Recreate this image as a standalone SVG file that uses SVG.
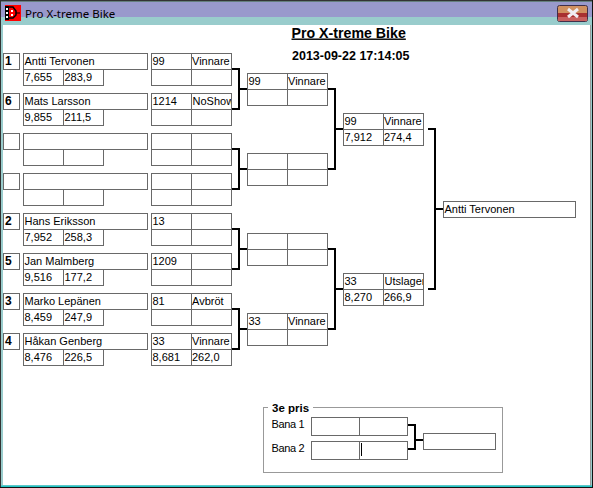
<svg xmlns="http://www.w3.org/2000/svg" width="593" height="488" viewBox="0 0 593 488">
<style>
.b{fill:#fff;stroke:#696969;stroke-width:1}
.d{stroke:#696969;stroke-width:1;fill:none}
.c{fill:none;stroke:#000;stroke-width:2}
text{font-family:"Liberation Sans",Arial,sans-serif;font-size:11px;fill:#000}
.s{font-weight:bold;font-size:12px}
.hd{font-weight:bold}
</style>
<defs>
<g id="pair"><rect class="b" x="0.5" y="0.5" width="80" height="32"/><path class="d" d="M40.5 0.5V32.5M0.5 16.5H80.5"/></g>
<g id="name"><rect class="b" x="0.5" y="0.5" width="124" height="16"/><rect class="b" x="0.5" y="16.5" width="80" height="16"/><path class="d" d="M40.5 16.5V32.5"/></g>
<rect id="seed" class="b" x="0.5" y="0.5" width="16" height="16"/>
<clipPath id="clip-noshow"><rect x="191" y="93" width="40" height="17"/></clipPath>
<clipPath id="clip-utslagen"><rect x="383" y="273" width="40" height="17"/></clipPath>
</defs>
<g id="window">
<rect width="593" height="488" fill="#99cccc"/>
<rect x="0" y="0" width="593" height="1.500" fill="#333"/>
<rect x="0" y="0" width="1" height="488" fill="#333"/>
<rect x="592" y="0" width="1" height="488" fill="#111"/>
<rect x="0" y="487" width="593" height="1" fill="#111"/>
<rect x="1" y="2" width="591" height="15" fill="#9999cc"/>
<rect x="3" y="25" width="587" height="460" fill="#fff"/>
<rect x="590" y="25" width="1" height="461" fill="#999"/>
<rect x="1" y="485.500" width="591" height="1.500" fill="#22c4c4"/>
<rect x="5" y="5" width="16" height="16" fill="#f00"/>
<path d="M5 6h4v14h-4z" fill="#000"/>
<path d="M6 8h2v2H6zM6 12h2v2H6zM6 16h2v2H6z" fill="#fff"/>
<path d="M9 7h4l3 4v4l-3 3H9" fill="none" stroke="#000" stroke-width="1.500"/>
<path d="M16 13h4" stroke="#000"/>
<path d="M11 10h2v2h-2zM11 14h2v2h-2z" fill="#fff"/>
<text x="25" y="18" style="font-family:'Noto Sans',sans-serif;font-size:11.5px">Pro X-treme Bike</text>
<rect x="557.500" y="5.500" width="30" height="16" rx="2" fill="#d09060" stroke="#40304a"/>
<rect x="558" y="13" width="29" height="4" fill="#a83030"/>
<rect x="558" y="17" width="29" height="4" fill="#c86060"/>
<path d="M568 9l10 8M578 9l-10 8" stroke="#f0eef4" stroke-width="3"/>
</g>
<g id="heading">
<text x="291.500" y="37.500" class="hd" style="font-size:14.200px" text-decoration="underline">Pro X-treme Bike</text>
<text x="292" y="60" class="hd" style="font-size:12.500px">2013-09-22 17:14:05</text>
</g>
<g id="connectors">
<path class="c" d="M232 69H239V109H232M240 89H247"/>
<path class="c" d="M232 149H239V189H232M240 169H247"/>
<path class="c" d="M232 229H239V269H232M240 249H247"/>
<path class="c" d="M232 309H239V349H232M240 329H247"/>
<path class="c" d="M328 89H335V169H328M336 129H343"/>
<path class="c" d="M328 249H335V329H328M336 289H343"/>
<path class="c" d="M428 129H435V289H428M436 209H443"/>
<path class="c" d="M408 425H415V449H408M416 440H423"/>
</g>
<g id="seed-1"><use href="#seed" x="3" y="53"/><text class="s" x="5" y="65">1</text></g>
<g id="seed-6"><use href="#seed" x="3" y="93"/><text class="s" x="5" y="105">6</text></g>
<g id="seed-e1"><use href="#seed" x="3" y="133"/></g>
<g id="seed-e2"><use href="#seed" x="3" y="173"/></g>
<g id="seed-2"><use href="#seed" x="3" y="213"/><text class="s" x="5" y="225">2</text></g>
<g id="seed-5"><use href="#seed" x="3" y="253"/><text class="s" x="5" y="265">5</text></g>
<g id="seed-3"><use href="#seed" x="3" y="293"/><text class="s" x="5" y="305">3</text></g>
<g id="seed-4"><use href="#seed" x="3" y="333"/><text class="s" x="5" y="345">4</text></g>
<g id="rider-1"><use href="#name" x="23" y="53"/><text x="24.500" y="65">Antti Tervonen</text><text x="24.500" y="81">7,655</text><text x="64.500" y="81">283,9</text></g>
<g id="rider-6"><use href="#name" x="23" y="93"/><text x="24.500" y="105">Mats Larsson</text><text x="24.500" y="121">9,855</text><text x="64.500" y="121">211,5</text></g>
<g id="rider-e1"><use href="#name" x="23" y="133"/></g>
<g id="rider-e2"><use href="#name" x="23" y="173"/></g>
<g id="rider-2"><use href="#name" x="23" y="213"/><text x="24.500" y="225">Hans Eriksson</text><text x="24.500" y="241">7,952</text><text x="64.500" y="241">258,3</text></g>
<g id="rider-5"><use href="#name" x="23" y="253"/><text x="24.500" y="265">Jan Malmberg</text><text x="24.500" y="281">9,516</text><text x="64.500" y="281">177,2</text></g>
<g id="rider-3"><use href="#name" x="23" y="293"/><text x="24.500" y="305">Marko Lepänen</text><text x="24.500" y="321">8,459</text><text x="64.500" y="321">247,9</text></g>
<g id="rider-4"><use href="#name" x="23" y="333"/><text x="24.500" y="345">Håkan Genberg</text><text x="24.500" y="361">8,476</text><text x="64.500" y="361">226,5</text></g>
<g id="r1-1"><use href="#pair" x="151" y="53"/><text x="152.500" y="65">99</text><text x="192" y="65">Vinnare</text></g>
<g id="r1-2"><use href="#pair" x="151" y="93"/><text x="152.500" y="105">1214</text><text x="192.500" y="105" clip-path="url(#clip-noshow)">NoShow</text></g>
<g id="r1-3"><use href="#pair" x="151" y="133"/></g>
<g id="r1-4"><use href="#pair" x="151" y="173"/></g>
<g id="r1-5"><use href="#pair" x="151" y="213"/><text x="152.500" y="225">13</text></g>
<g id="r1-6"><use href="#pair" x="151" y="253"/><text x="152.500" y="265">1209</text></g>
<g id="r1-7"><use href="#pair" x="151" y="293"/><text x="152.500" y="305">81</text><text x="192" y="305">Avbröt</text></g>
<g id="r1-8"><use href="#pair" x="151" y="333"/><text x="152.500" y="345">33</text><text x="192" y="345">Vinnare</text><text x="152.500" y="361">8,681</text><text x="192" y="361">262,0</text></g>
<g id="r2-1"><use href="#pair" x="247" y="73"/><text x="248.500" y="85">99</text><text x="288" y="85">Vinnare</text></g>
<g id="r2-2"><use href="#pair" x="247" y="153"/></g>
<g id="r2-3"><use href="#pair" x="247" y="233"/></g>
<g id="r2-4"><use href="#pair" x="247" y="313"/><text x="248.500" y="325">33</text><text x="288" y="325">Vinnare</text></g>
<g id="r3-1"><use href="#pair" x="343" y="113"/><text x="344.500" y="125">99</text><text x="384" y="125">Vinnare</text><text x="344.500" y="141">7,912</text><text x="384" y="141">274,4</text></g>
<g id="r3-2"><use href="#pair" x="343" y="273"/><text x="344.500" y="285">33</text><text x="384.500" y="285" clip-path="url(#clip-utslagen)">Utslagen</text><text x="344.500" y="301">8,270</text><text x="384" y="301">266,9</text></g>
<g id="final"><rect class="b" x="443.500" y="201.500" width="132" height="16"/><text x="444.500" y="213">Antti Tervonen</text></g>
<g id="third-place">
<rect x="263.500" y="407.500" width="239" height="65" fill="none" stroke="#999"/>
<rect x="268" y="403" width="45" height="10" fill="#fff"/>
<text x="272" y="412" class="hd" style="font-size:11.500px">3e pris</text>
<text x="271.500" y="428" textLength="33">Bana 1</text>
<text x="271.500" y="452" textLength="33">Bana 2</text>
<rect class="b" x="311.500" y="417.500" width="96" height="18"/><path class="d" d="M359.500 417.500V435.500"/>
<rect class="b" x="311.500" y="441.500" width="96" height="18"/><path class="d" d="M359.500 441.500V459.500"/>
<path d="M361.500 443V456" stroke="#000"/>
<rect class="b" x="423.500" y="433.500" width="72" height="16"/>
</g>
</svg>
